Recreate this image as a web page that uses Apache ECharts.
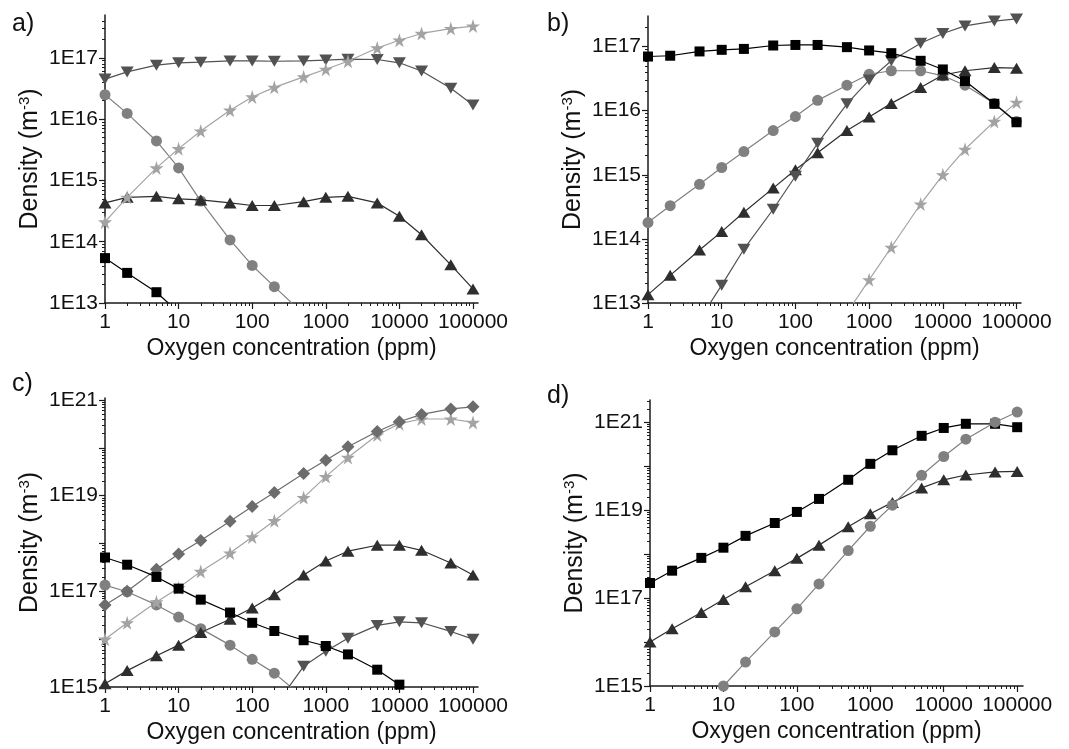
<!DOCTYPE html>
<html><head><meta charset="utf-8">
<script src="https://cdn.jsdelivr.net/npm/echarts@6/dist/echarts.min.js"></script>
<style>html,body{margin:0;padding:0;background:#fff}#chart{width:1069px;height:749px}</style>
</head><body><div id="chart"></div>
<script>
// ---------------- data ----------------
const oxygen = [1, 2, 5, 10, 20, 50, 100, 200, 500, 1000, 2000, 5000, 10000, 20000, 50000, 100000];

const xTickValues = [1, 10, 100, 1000, 10000, 100000];
const xTickLabels = ['1', '10', '100', '1000', '10000', '100000'];
const yTickValuesAB = [1e13, 1e14, 1e15, 1e16, 1e17];
const yTickLabelsAB = ['1E13', '1E14', '1E15', '1E16', '1E17'];
const yTickValuesCD = [1e15, 1e16, 1e17, 1e18, 1e19, 1e20, 1e21];
const yLabelValuesCD = [1e15, 1e17, 1e19, 1e21];
const yTickLabelsCD = ['1E15', '1E17', '1E19', '1E21'];
const minorFactors = [2, 3, 4, 5, 6, 7, 8, 9];

// panel a
const aSquare   = [5.4e13, 3.1e13, 1.5e13, 7.0e12, 3.0e12, null, null, null, null, null, null, null, null, null, null, null];
const aCircle   = [2.5e16, 1.24e16, 4.4e15, 1.6e15, 4.6e14, 1.07e14, 4.1e13, 1.85e13, 6.6e12, 2.5e12, null, null, null, null, null, null];
const aUpTri    = [4.3e14, 5.3e14, 5.5e14, 5.0e14, 4.8e14, 4.3e14, 3.9e14, 3.9e14, 4.5e14, 5.3e14, 5.5e14, 4.3e14, 2.6e14, 1.3e14, 4.2e13, 1.7e13];
const aDownTri  = [4.5e16, 5.9e16, 7.6e16, 8.3e16, 8.5e16, 8.9e16, 8.9e16, 8.8e16, 8.9e16, 9.2e16, 9.5e16, 9.4e16, 8.3e16, 6.1e16, 3.2e16, 1.7e16];
const aStar     = [2.1e14, 5.3e14, 1.6e15, 3.3e15, 6.4e15, 1.4e16, 2.3e16, 3.3e16, 4.9e16, 6.5e16, 8.8e16, 1.45e17, 1.94e17, 2.5e17, 3.0e17, 3.3e17];

// panel b
const bSquare   = [7.0e16, 7.2e16, 8.4e16, 8.9e16, 9.2e16, 1.04e17, 1.06e17, 1.06e17, 9.8e16, 8.7e16, 7.9e16, 6.0e16, 4.4e16, 2.9e16, 1.28e16, 6.6e15];
const bCircle   = [1.8e14, 3.3e14, 7.1e14, 1.3e15, 2.3e15, 4.9e15, 8.1e15, 1.45e16, 2.5e16, 3.7e16, 4.2e16, 4.2e16, 3.5e16, 2.5e16, 1.3e16, 6.8e15];
const bUpTri    = [1.35e13, 2.7e13, 6.7e13, 1.3e14, 2.6e14, 6.2e14, 1.2e15, 2.2e15, 4.9e15, 8.0e15, 1.3e16, 2.3e16, 3.6e16, 4.2e16, 4.7e16, 4.6e16];
const bDownTri  = [null, null, 5.5e12, 1.9e13, 6.9e13, 2.9e14, 9.5e14, 3.1e15, 1.28e16, 3.0e16, 6.0e16, 1.13e17, 1.6e17, 2.1e17, 2.5e17, 2.7e17];
const bStar     = [null, null, null, null, null, null, null, null, 7.0e12, 2.3e13, 7.4e13, 3.5e14, 1.0e15, 2.5e15, 6.8e15, 1.35e16];

// panel c
const cSquare   = [5.1e17, 3.6e17, 2.0e17, 1.14e17, 6.7e16, 3.6e16, 2.2e16, 1.48e16, 9.5e15, 7.2e15, 4.8e15, 2.3e15, 1.12e15, null, null, null];
const cCircle   = [1.35e17, 9.8e16, 5.2e16, 2.9e16, 1.66e16, 7.5e15, 3.8e15, 1.95e15, 6.0e14, null, null, null, null, null, null, null];
const cUpTri    = [1.17e15, 2.2e15, 4.5e15, 7.5e15, 1.38e16, 2.6e16, 4.5e16, 8.5e16, 2.2e17, 4.3e17, 6.9e17, 9.2e17, 9.2e17, 7.2e17, 3.9e17, 2.2e17];
const cDownTri  = [null, null, null, null, null, null, null, 3.8e14, 2.7e15, 5.6e15, 1.05e16, 1.94e16, 2.3e16, 2.2e16, 1.45e16, 1.0e16];
const cDiamond  = [5.2e16, 1.0e17, 2.9e17, 6.0e17, 1.15e18, 2.9e18, 5.9e18, 1.17e19, 2.9e19, 5.5e19, 1.05e20, 2.2e20, 3.5e20, 5.0e20, 6.5e20, 7.2e20];
const cStar     = [1.0e16, 2.2e16, 6.0e16, 1.18e17, 2.6e17, 6.3e17, 1.37e18, 3.0e18, 9.1e18, 2.5e19, 6.3e19, 1.85e20, 3.2e20, 4.0e20, 4.0e20, 3.4e20];

// panel d
const dSquare   = [2.2e17, 4.2e17, 8.2e17, 1.4e18, 2.6e18, 5.1e18, 9.1e18, 1.8e19, 4.9e19, 1.13e20, 2.3e20, 4.9e20, 7.4e20, 9.2e20, 9.2e20, 7.7e20];
const dUpTri    = [1.0e16, 2.0e16, 4.7e16, 9.3e16, 1.8e17, 4.2e17, 8.0e17, 1.6e18, 4.2e18, 8.3e18, 1.5e19, 3.2e19, 4.9e19, 6.3e19, 7.4e19, 7.6e19];
const dCircle   = [null, null, 2.9e14, 1.0e15, 3.5e15, 1.7e16, 5.7e16, 2.1e17, 1.2e18, 4.3e18, 1.3e19, 6.2e19, 1.66e20, 4.1e20, 1.0e21, 1.7e21];

// ---------------- styles ----------------
const FONT = '"Liberation Sans", Arial, Helvetica, sans-serif';
const AXIS_COLOR = '#1a1a1a';
const STAR = 'path://M50,0 L61,35 L98,35 L68,57 L79,91 L50,70 L21,91 L32,57 L2,35 L39,35 Z';
const MARK = {
  square:  { symbol: 'rect', size: 10, color: '#000000' },
  circle:  { symbol: 'circle', size: 11, color: '#808080' },
  upTri:   { symbol: 'triangle', size: [13, 11], color: '#2e2e2e' },
  downTri: { symbol: 'triangle', size: [13, 11], rotate: 180, color: '#525252' },
  star:    { symbol: STAR, size: 14, color: '#a3a3a3' },
  diamond: { symbol: 'diamond', size: 13, color: '#6c6c6c' }
};

const lg = Math.log10;
function minorLogs(lo, hi) {
  const out = [];
  for (let d = Math.floor(lg(lo)); d <= Math.ceil(lg(hi)); d++) {
    for (const f of minorFactors) {
      const v = d + lg(f);
      if (v > lg(lo) + 1e-9 && v < lg(hi) - 1e-9) out.push(v);
    }
  }
  return out;
}

const grids = [], xAxes = [], yAxes = [], series = [];

function addPanel(p) {
  const gi = grids.length;
  grids.push({ left: p.left, top: p.top, width: p.width, height: p.height, containLabel: false });
  const xLo = xTickValues[0], xHi = p.xMax, yLo = p.yMin, yHi = p.yMax;
  // data axes (log scale)
  xAxes.push({ type: 'log', logBase: 10, gridIndex: gi, min: xLo, max: xHi, position: 'bottom',
    axisLine: { show: false }, axisTick: { show: false }, axisLabel: { show: false }, splitLine: { show: false } });
  yAxes.push({ type: 'log', logBase: 10, gridIndex: gi, min: yLo, max: yHi, position: 'left',
    axisLine: { show: false }, axisTick: { show: false }, axisLabel: { show: false }, splitLine: { show: false } });
  // major ticks + labels (in decades)
  const xMajor = xTickValues.map(lg);
  xAxes.push({ type: 'value', gridIndex: gi, min: lg(xLo), max: lg(xHi), position: 'bottom',
    name: 'Oxygen concentration (ppm)', nameLocation: 'middle', nameGap: 34,
    nameTextStyle: { fontFamily: FONT, fontSize: 23, color: '#111' },
    axisLine: { show: true, onZero: false, lineStyle: { color: AXIS_COLOR, width: 1.5 } },
    axisTick: { show: true, inside: false, length: 6, customValues: xMajor, lineStyle: { color: AXIS_COLOR, width: 1.2 } },
    axisLabel: { show: true, margin: 9, customValues: xMajor, fontFamily: FONT, fontSize: 21, color: '#111',
      formatter: v => xTickLabels[xMajor.findIndex(m => Math.abs(m - v) < 1e-6)] },
    splitLine: { show: false } });
  xAxes.push({ type: 'value', gridIndex: gi, min: lg(xLo), max: lg(xHi), position: 'bottom',
    axisLine: { show: false, onZero: false }, axisLabel: { show: false }, splitLine: { show: false },
    axisTick: { show: true, inside: false, length: 3, customValues: minorLogs(xLo, xHi), lineStyle: { color: AXIS_COLOR, width: 1 } } });
  const yMajor = p.yTicks.map(lg);
  const yLab = p.yLabelVals.map(lg);
  yAxes.push({ type: 'value', gridIndex: gi, min: lg(yLo), max: lg(yHi), position: 'left',
    name: 'Density (m{sup|-3})', nameLocation: 'middle', nameGap: p.nameGap, nameRotate: 90,
    nameTextStyle: { fontFamily: FONT, fontSize: 25, color: '#111',
      rich: { sup: { fontFamily: FONT, fontSize: 15, color: '#111', padding: [0, 0, 11, 0] } } },
    axisLine: { show: true, onZero: false, lineStyle: { color: AXIS_COLOR, width: 1.5 } },
    axisTick: { show: true, inside: false, length: 6, customValues: yMajor, lineStyle: { color: AXIS_COLOR, width: 1.2 } },
    axisLabel: { show: true, margin: 7, customValues: yLab, fontFamily: FONT, fontSize: 21, color: '#111',
      formatter: v => p.yLabels[yLab.findIndex(m => Math.abs(m - v) < 1e-6)] },
    splitLine: { show: false } });
  yAxes.push({ type: 'value', gridIndex: gi, min: lg(yLo), max: lg(yHi), position: 'left',
    axisLine: { show: false, onZero: false }, axisLabel: { show: false }, splitLine: { show: false },
    axisTick: { show: true, inside: false, length: 3, customValues: minorLogs(yLo, yHi), lineStyle: { color: AXIS_COLOR, width: 1 } } });
  p.series.forEach((s, k) => {
    const m = MARK[s.kind];
    series.push({
      type: 'line', xAxisIndex: 3 * gi, yAxisIndex: 3 * gi, clip: true, animation: false,
      data: oxygen.map((x, i) => [x, s.values[i]]).filter(d => d[1] != null),
      symbol: m.symbol, symbolSize: m.size, symbolRotate: m.rotate || 0, showAllSymbol: true,
      lineStyle: { color: m.color, width: 1.2 }, itemStyle: { color: m.color }, z: 2 + k * 0.01
    });
  });
}

addPanel({ left: 105, top: 15, width: 373, height: 288, xMax: 1.17e5, yMin: 1e13, yMax: 5e17, nameGap: 62,
  yTicks: yTickValuesAB, yLabelVals: yTickValuesAB, yLabels: yTickLabelsAB,
  series: [ { kind: 'square', values: aSquare }, { kind: 'circle', values: aCircle }, { kind: 'upTri', values: aUpTri },
            { kind: 'downTri', values: aDownTri }, { kind: 'star', values: aStar } ] });
addPanel({ left: 648, top: 16, width: 373, height: 287, xMax: 1.15e5, yMin: 1e13, yMax: 3e17, nameGap: 62,
  yTicks: yTickValuesAB, yLabelVals: yTickValuesAB, yLabels: yTickLabelsAB,
  series: [ { kind: 'circle', values: bCircle }, { kind: 'star', values: bStar }, { kind: 'upTri', values: bUpTri },
            { kind: 'downTri', values: bDownTri }, { kind: 'square', values: bSquare } ] });
addPanel({ left: 105, top: 398, width: 373, height: 289, xMax: 1.17e5, yMin: 1e15, yMax: 1.1e21, nameGap: 62,
  yTicks: yTickValuesCD, yLabelVals: yLabelValuesCD, yLabels: yTickLabelsCD,
  series: [ { kind: 'circle', values: cCircle }, { kind: 'downTri', values: cDownTri }, { kind: 'upTri', values: cUpTri },
            { kind: 'star', values: cStar }, { kind: 'diamond', values: cDiamond }, { kind: 'square', values: cSquare } ] });
addPanel({ left: 650, top: 400, width: 373, height: 286, xMax: 1.2e5, yMin: 1e15, yMax: 3.2e21, nameGap: 62,
  yTicks: yTickValuesCD, yLabelVals: yLabelValuesCD, yLabels: yTickLabelsCD,
  series: [ { kind: 'square', values: dSquare }, { kind: 'upTri', values: dUpTri }, { kind: 'circle', values: dCircle } ] });

const panelLabels = ['a)', 'b)', 'c)', 'd)'];
const panelLabelPos = [[12, 12], [547, 12], [12, 372], [547, 384]];

const chart = echarts.init(document.getElementById('chart'), null, { renderer: 'canvas' });
chart.setOption({
  backgroundColor: '#ffffff',
  animation: false,
  grid: grids, xAxis: xAxes, yAxis: yAxes, series: series,
  graphic: panelLabels.map((t, i) => ({ type: 'text', left: panelLabelPos[i][0], top: panelLabelPos[i][1],
    style: { text: t, fontFamily: FONT, fontSize: 25, fill: '#111' } }))
});
</script></body></html>
